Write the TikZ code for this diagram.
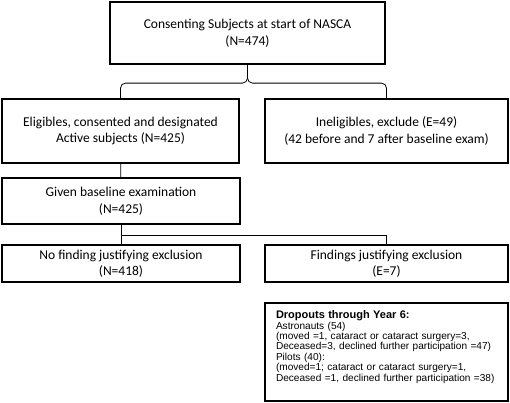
\documentclass[tikz,border=0pt]{standalone}
\usepackage{fontspec}
\setmainfont{Carlito}
\newfontfamily\arialfont{Liberation Sans}
\begin{document}
\begin{tikzpicture}[x=1pt,y=-1pt]
  % Styles
  \tikzstyle{box}=[draw,line width=2.2pt,inner sep=0pt,align=center,
                   font=\fontsize{13.5}{16.5}\selectfont]
  \tikzstyle{link}=[line width=0.8pt]
  \tikzstyle{dropbox}=[draw,line width=2.2pt,inner xsep=11pt,inner ysep=0pt,
                       text width=221pt,minimum height=98pt,align=left,
                       font=\arialfont\fontsize{10.1}{10.4}\selectfont]

  \useasboundingbox (0,0) rectangle (510,402);

  % The boxes
  \node[box,minimum width=275pt,minimum height=62pt] (start) at (247.5,33)
        {Consenting Subjects at start of NASCA\\(N=474)};
  \node[box,minimum width=237pt,minimum height=64pt] (elig) at (120.5,131)
        {Eligibles, consented and designated\\Active subjects (N=425)};
  \node[box,minimum width=243pt,minimum height=64pt] (inel) at (386.5,131)
        {Ineligibles, exclude (E=49)\\(42 before and 7 after baseline exam)};
  \node[box,minimum width=238pt,minimum height=46pt] (given) at (121,201)
        {Given baseline examination\\(N=425)};
  \node[box,minimum width=238pt,minimum height=37pt] (nofind) at (121,263.5)
        {No finding justifying exclusion\\(N=418)};
  \node[box,minimum width=243pt,minimum height=37pt] (find) at (386.5,263.5)
        {Findings justifying exclusion\\(E=7)};
  \node[dropbox] (drop) at (386.5,352)
        {{\bfseries\fontsize{11}{12}\selectfont Dropouts through Year 6:}\\
         Astronauts (54)\\
         (moved =1, cataract or cataract surgery=3,\\
         Deceased=3, declined further participation =47)\\
         Pilots (40):\\
         (moved=1; cataract or cataract surgery=1,\\
         \mbox{Deceased =1, declined further participation =38)}\rule[-12pt]{0pt}{12pt}};

  % The connectors
  \coordinate (brace) at ([yshift=-18pt]start.south);
  \coordinate (split) at ([yshift=-10pt]given.south);
  \draw[link,rounded corners=5pt] (elig.north) |- (brace) -- (start.south);
  \draw[link,rounded corners=5pt] (inel.north) |- (brace) -- (start.south);
  \draw[link] (elig) -- (given);
  \draw[link] (given) -- (nofind);
  \draw[link] (split) -| (find.north);
\end{tikzpicture}
\end{document}
